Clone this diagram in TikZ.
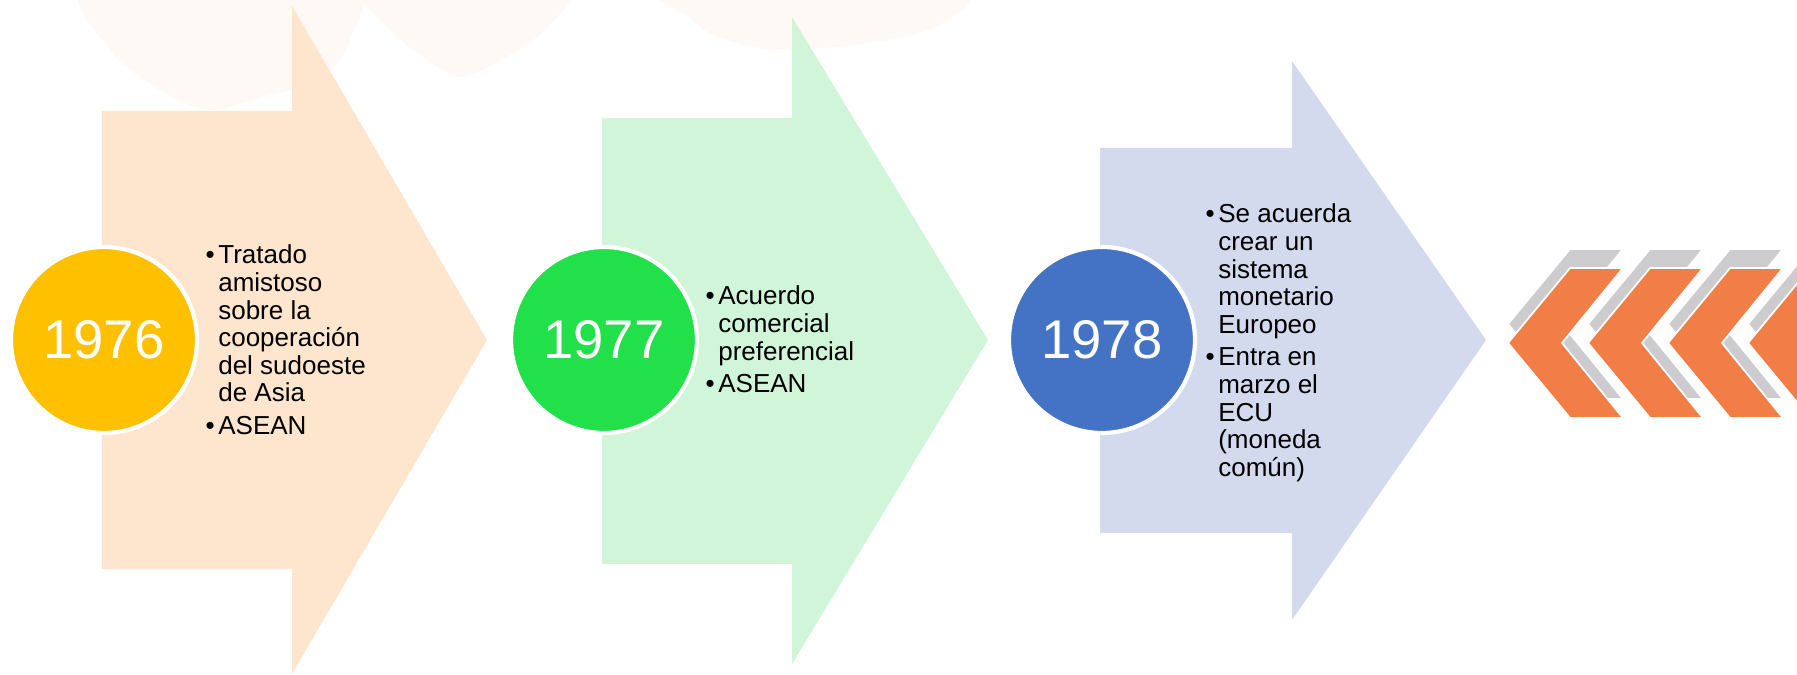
\documentclass[tikz,border=0pt]{standalone}
\usepackage{fontspec}
\setmainfont{Liberation Sans}
\definecolor{peach}{RGB}{253,230,205}
\definecolor{mint}{RGB}{208,245,216}
\definecolor{lavender}{RGB}{211,218,237}
\definecolor{amber}{RGB}{255,192,0}
\definecolor{yeargreen}{RGB}{34,224,74}
\definecolor{yearblue}{RGB}{68,114,196}
\definecolor{chevron}{RGB}{240,126,70}
\definecolor{shade}{RGB}{204,204,207}
\definecolor{blob}{RGB}{254,249,244}

\begin{document}
\begin{tikzpicture}[year/.style={circle,draw=white,line width=1.2pt,minimum size=1.86cm,
    inner sep=0pt,text=white,font=\fontsize{15.5}{18}\selectfont},
  items/.style={anchor=base west,inner sep=0pt,font=\fontsize{7.4}{7.85}\selectfont},
  chev/.style={draw=white,line width=.5pt}]
  \useasboundingbox (0,0) rectangle (17.97,6.75);
  \clip (0,0) rectangle (17.97,6.75);
  % faint watercolour at the top
  \fill[blob] plot[smooth cycle] coordinates {(0.9,6.9) (3.45,6.9) (3.5,6.35) (3.2,5.95)
    (2.7,5.8) (2.1,5.65) (1.6,5.85) (1.1,6.25)};
  \fill[blob] plot[smooth cycle] coordinates {(3.7,6.85) (5.6,6.85) (5.5,6.5) (5.1,6.2)
    (4.6,5.98) (4.2,6.2) (3.85,6.5)};
  \fill[blob] plot[smooth cycle] coordinates {(6.7,6.85) (9.55,6.85) (9.4,6.5) (8.7,6.32)
    (7.8,6.25) (7.2,6.37) (6.9,6.57)};
  \begin{scope}[shift={(1.04,3.35)}]
    \fill[peach] (-0.02,2.29) -- (1.88,2.29) -- (1.88,3.34) -- (3.83,0)
      -- (1.88,-3.34) -- (1.88,-2.29) -- (-0.02,-2.29) -- cycle;
    \node[year,fill=amber] (y1976) at (0,0) {1976};
    \node[items] (t1976) at (1.01,0.76) {\begin{tabular}[t]{@{}l@{\hspace{1pt}}l@{}}
      \textbullet & Tratado\\ & amistoso\\ & sobre la\\ & cooperación\\
      & del sudoeste\\ & de Asia\\[1.4pt] \textbullet & ASEAN\end{tabular}};
  \end{scope}
  \begin{scope}[shift={(6.04,3.35)}]
    \fill[mint] (-0.02,2.22) -- (1.88,2.22) -- (1.88,3.23) -- (3.84,0)
      -- (1.88,-3.24) -- (1.88,-2.24) -- (-0.02,-2.24) -- cycle;
    \node[year,fill=yeargreen] (y1977) at (0,0) {1977};
    \node[items] (t1977) at (1.01,0.35) {\begin{tabular}[t]{@{}l@{\hspace{1pt}}l@{}}
      \textbullet & Acuerdo\\ & comercial\\ & preferencial\\[1.4pt]
      \textbullet & ASEAN\end{tabular}};
  \end{scope}
  \begin{scope}[shift={(11.02,3.35)}]
    \fill[lavender] (-0.02,1.92) -- (1.90,1.92) -- (1.90,2.79) -- (3.84,0)
      -- (1.90,-2.80) -- (1.90,-1.93) -- (-0.02,-1.93) -- cycle;
    \node[year,fill=yearblue] (y1978) at (0,0) {1978};
    \node[items] (t1978) at (1.03,1.17) {\begin{tabular}[t]{@{}l@{\hspace{1pt}}l@{}}
      \textbullet & Se acuerda\\ & crear un\\ & sistema\\ & monetario\\
      & Europeo\\[1.4pt] \textbullet & Entra en\\ & marzo el\\ & ECU\\
      & (moneda\\ & común)\end{tabular}};
  \end{scope}
  % chevrons on the right
  \foreach \i in {0,...,3} {
    \begin{scope}[shift={({15.08+0.8*\i},3.32)}]
      \filldraw[chev,fill=shade] (0,0.19) -- ++(0.62,0.75) -- ++(0.53,0) -- ++(-0.61,-0.75)
        -- ++(0.61,-0.75) -- ++(-0.53,0) -- cycle;
      \filldraw[chev,fill=chevron] (0,0) -- ++(0.62,0.75) -- ++(0.53,0) -- ++(-0.61,-0.75)
        -- ++(0.61,-0.75) -- ++(-0.53,0) -- cycle;
    \end{scope}
  }
\end{tikzpicture}
\end{document}
